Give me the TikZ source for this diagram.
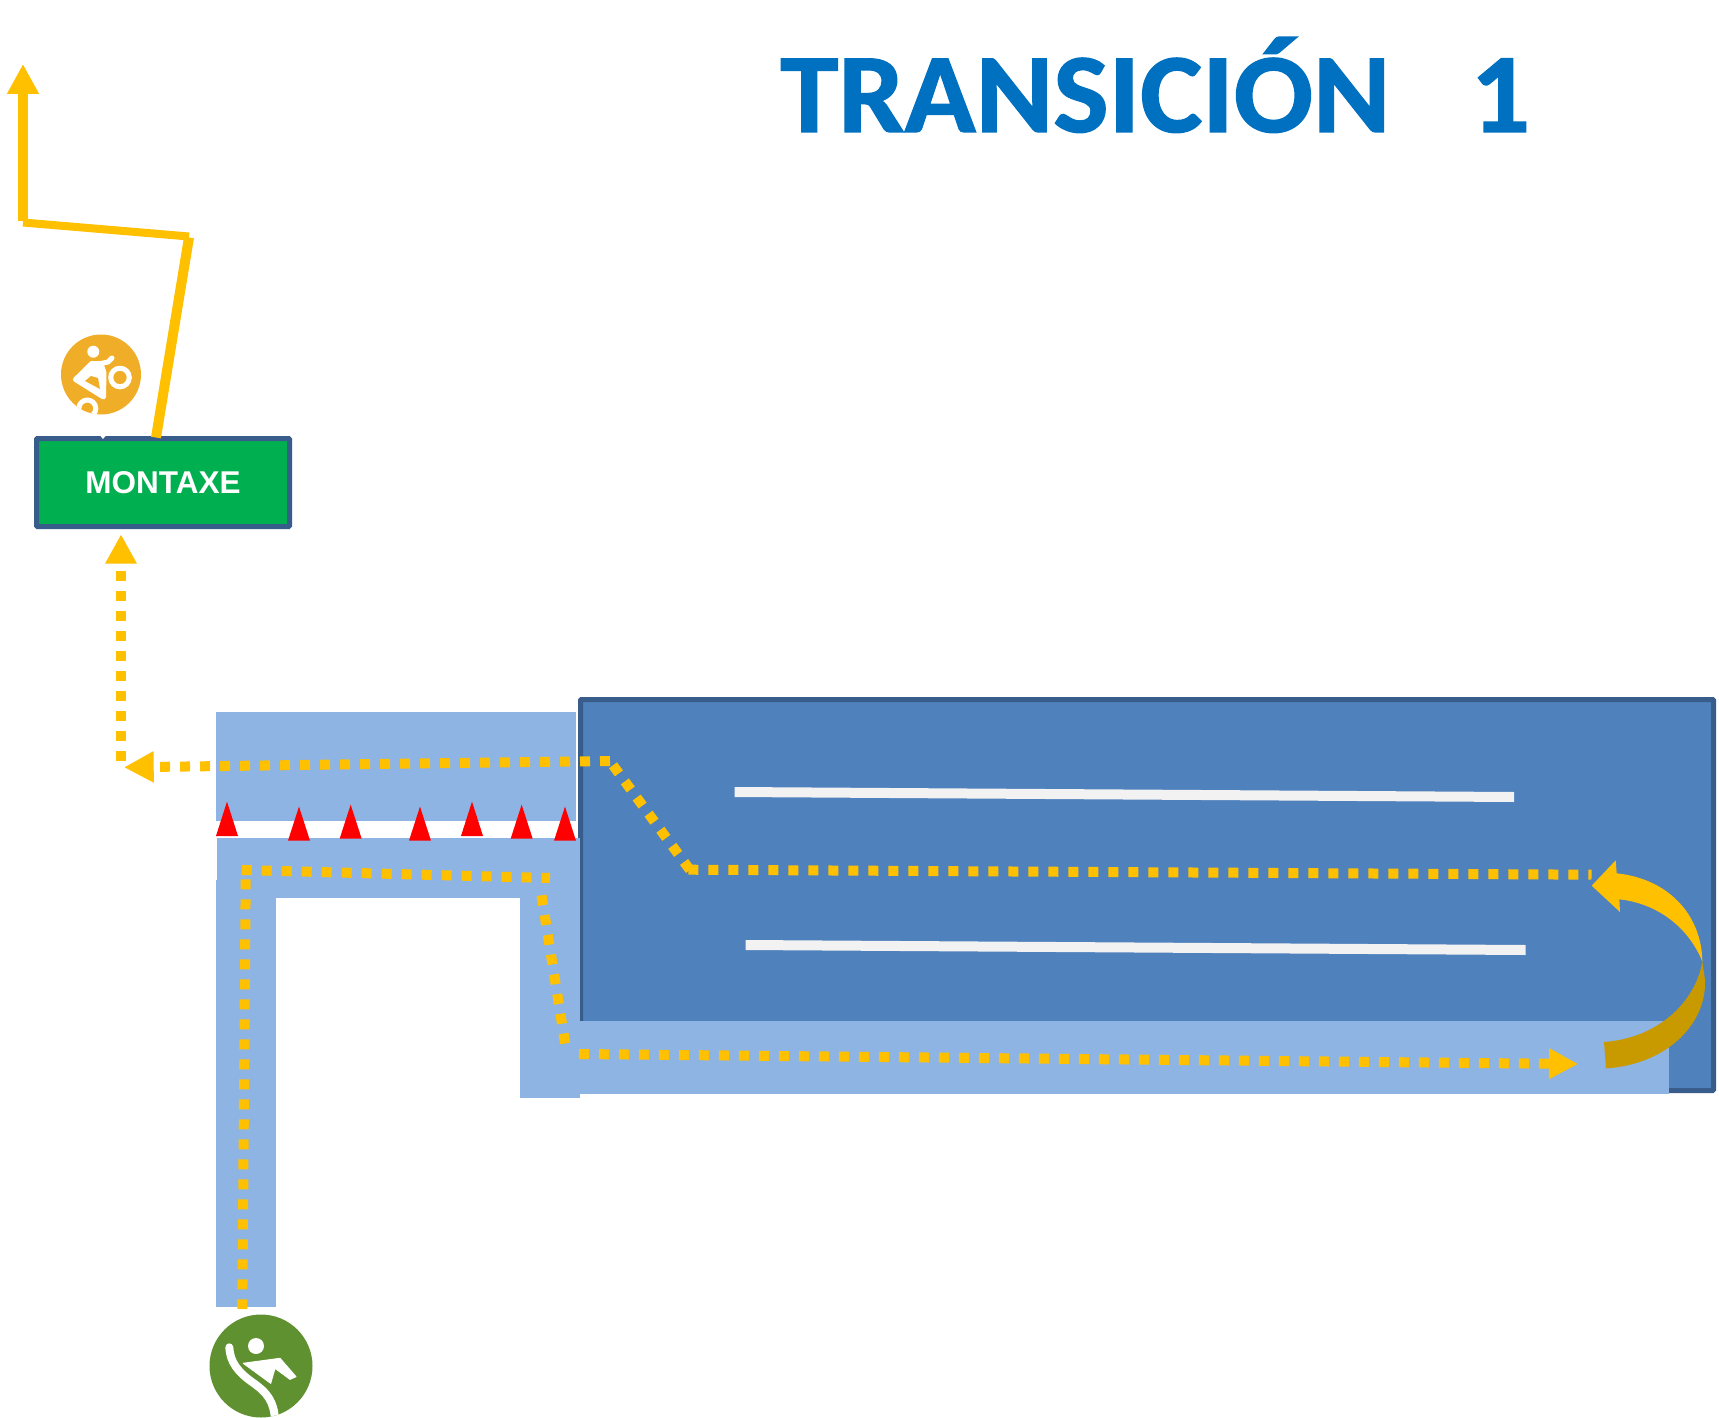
\documentclass[tikz,border=0pt]{standalone}
\usepackage{fontspec}
\usetikzlibrary{arrows.meta}
\setmainfont{Liberation Sans}
\newfontfamily\titlefont[BoldFeatures={FakeBold=1.2,FakeStretch=1.04}]{Carlito}
\definecolor{gold}{HTML}{FFC000}
\definecolor{golddark}{HTML}{C99A00}
\definecolor{lane}{HTML}{8EB4E3}
\definecolor{pool}{HTML}{4F81BD}
\definecolor{poolborder}{HTML}{385D8A}
\definecolor{boxgreen}{HTML}{00B050}
\definecolor{bikeorange}{HTML}{F0AE28}
\definecolor{swimgreen}{HTML}{5F9130}
\definecolor{titleblue}{HTML}{0070C0}
\tikzset{
  lanerect/.style={fill=lane,draw=none},
  solidpath/.style={draw=gold,line width=#1},
  dotpath/.style={draw=gold,line width=10pt,dash pattern=on 10pt off 10pt},
  glyph/.style={draw=white,line cap=round,line join=round,fill=none},
  badge/.style={circle,inner sep=0pt,minimum size=#1,draw=none},
}
\begin{document}
\begin{tikzpicture}[x=1pt,y=-1pt]
\useasboundingbox (0,0) rectangle (1719,1418);
\fill[white] (0,0) rectangle (1719,1418);

% pool
\draw[fill=pool,draw=poolborder,line width=5pt,rounded corners=1pt] (580.5,699.5) rectangle (1713.5,1090.5);
% lanes
\fill[lanerect] (216,712) rectangle (576,820.7);
\fill[lanerect] (217,838) rectangle (580,898);
\fill[lanerect] (216,880) rectangle (276,1306.7);
\fill[lanerect] (520,838) rectangle (580,1097.7);
\fill[lanerect] (580,1020.7) rectangle (1669,1093.7);

% lane lines
\fill[fill=white!95!black] (734.5,787) -- (1514,792) -- (1514,802) -- (734.5,797) -- cycle;
\fill[fill=white!95!black] (745.5,940) -- (1525.7,945) -- (1525.7,955) -- (745.5,950) -- cycle;

% red triangles
\begin{scope}[shift={(190,680)},x=0.33333pt,y=-0.33333pt]
\foreach \ax/\ay/\by in {111/365/468,327/380/482,482/374/476,690/380/482,846/365/468,995/374/476,1125/380/482}{
  \fill[red] (\ax,\ay) -- (\ax+33,\by) -- (\ax-33,\by) -- cycle;
}
\end{scope}

% montaxe box
\node[draw=poolborder,fill=boxgreen,line width=5pt,rounded corners=1pt,minimum width=253pt,minimum height=88pt,inner sep=0pt,outer sep=0pt,text=white,font=\fontsize{31.5}{31.5}\selectfont\bfseries] (montaxe) at (163,482.5) {MONTAXE};
\fill[white] (100.5,436) -- (105.5,436) -- (103,439) -- cycle;

% solid route
\coordinate (s1) at (156,437.5);
\coordinate (s2) at (189,237.5);
\coordinate (s3) at (189,236.5);
\coordinate (s4) at (23,222.5);
\coordinate (s5) at (23,221);
\coordinate (s6) at (23,64);
\draw[solidpath=10pt] (s1) -- (s2);
\draw[solidpath=8pt] (s3) -- (s4);
\draw[solidpath=10pt,-{Triangle[length=30pt,width=30pt,fill=gold]}] (s5) -- (s6);

% dotted route from the swim exit
\coordinate (d1) at (245.7,879.3);
\coordinate (d2) at (242.3,1309);
\coordinate (d3) at (241.7,870);
\coordinate (d4) at (550,878);
\coordinate (d5) at (541.5,895.3);
\coordinate (d6) at (566,1049);
\coordinate (d7) at (579,1054);
\coordinate (d8) at (1578,1064);
\draw[dotpath] (d1) -- (d2);
\draw[dotpath] (d3) -- (d4);
\draw[dotpath] (d5) -- (d6);
\draw[dotpath,-{Triangle[length=29pt,width=29pt,fill=gold]}] (d7) -- (d8);

% dotted route back to the box
\coordinate (e1) at (688.3,869.7);
\coordinate (e2) at (1591.5,874.7);
\coordinate (e3) at (613,765.3);
\coordinate (e4) at (690,870);
\coordinate (e5) at (610,761);
\coordinate (e6) at (124,767.3);
\coordinate (f1) at (121,761);
\coordinate (f2) at (121,534.3);
\draw[dotpath] (e1) -- (e2);
\draw[dotpath] (e3) -- (e4);
\draw[dotpath,-{Triangle[length=29.7pt,width=29.3pt,fill=gold]}] (e5) -- (e6);
\draw[dotpath,-{Triangle[length=29.4pt,width=29.7pt,fill=gold]}] (f1) -- (f2);

% curved turn arrow
\begin{scope}[shift={(1450,680)},x=0.33333pt,y=-0.33333pt]
\fill[golddark] (462,1086) -- (468,1165) .. controls (640,1155) and (770,1040) .. (765,900) -- (757,845) .. controls (735,970) and (620,1075) .. (462,1086) -- cycle;
\fill[gold] (425,617) -- (497,541) -- (500,580) .. controls (650,595) and (755,700) .. (757,845) .. controls (715,740) and (620,670) .. (508,658) -- (510,696) -- cycle;
\end{scope}

% bike badge
\node[badge=80pt,fill=bikeorange] (bike) at (101,374.5) {};
\begin{scope}
\clip (bike.center) circle (40pt);
\fill[white] (93.3,351.7) circle (6pt);
\draw[glyph,line width=5pt] (120,377.5) circle (9.3pt);
\draw[glyph,line width=5pt] (87.3,408.5) circle (8.5pt);
\draw[glyph,line width=5pt,fill=white] (75.5,379.5) -- (91.7,363.5) -- (101,363.5) -- (104,373) -- (103.5,397) -- cycle;
\draw[glyph,line width=5pt] (101,363.5) -- (108,362) -- (112,358);
\fill[bikeorange] (85,381) -- (91,376) -- (98,378) -- (100,389) -- cycle;
\end{scope}

% swim badge
\node[badge=103pt,fill=swimgreen] (swim) at (261,1366) {};
\begin{scope}
\clip (swim.center) circle (51.5pt);
\fill[white] (256,1346) circle (8pt);
\draw[glyph,line width=8pt] (229.3,1347.3) .. controls (230,1362) and (238,1372) .. (252,1382) .. controls (268,1393) and (274,1402) .. (275,1420);
\fill[white,draw=white,line width=1pt,line join=round] (243.3,1363.3) -- (280,1358.3) -- (296,1376.7) -- (290,1379.3) -- (275,1368.3) -- (270.7,1383.3) -- cycle;
\end{scope}

% title
\node[anchor=base west,inner sep=0pt,font=\titlefont\fontsize{113}{113}\selectfont\bfseries,text=titleblue] (title) at (780,132) {TRANSICIÓN\hspace{80pt}1};
\end{tikzpicture}
\end{document}
